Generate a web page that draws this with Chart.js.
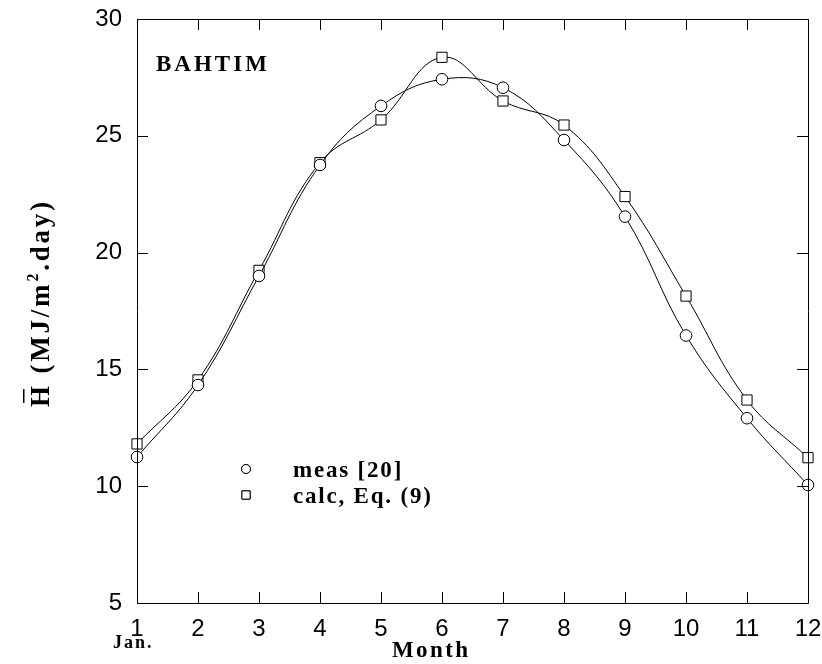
<!DOCTYPE html>
<html>
<head>
<meta charset="utf-8">
<script src="https://cdn.jsdelivr.net/npm/chart.js@4.4.0/dist/chart.umd.min.js"></script>
<style>
html,body{margin:0;padding:0;background:#fff;}
#wrap{width:822px;height:664px;position:relative;}
</style>
</head>
<body>
<div id="wrap"><canvas id="c" width="822" height="664"></canvas></div>
<script>
// ---- data ----
const months = [1,2,3,4,5,6,7,8,9,10,11,12];
const measValues = [11.25, 14.33, 19.0, 23.75, 26.28, 27.42, 27.06, 24.82, 21.54, 16.45, 12.91, 10.05];
const calcValues = [11.81, 14.55, 19.24, 23.85, 25.68, 28.36, 26.49, 25.46, 22.40, 18.14, 13.69, 11.22];
const yTickValues = [5, 10, 15, 20, 25, 30];
const xTickValues = months;
const seriesLabels = ['meas [20]', 'calc, Eq. (9)'];
const stationName = 'BAHTIM';
const xTitle = 'Month';
const firstMonthLabel = 'Jan.';

const SERIF = '"Liberation Serif","Times New Roman",serif';
const SANS = '"Liberation Sans",Arial,sans-serif';

function toXY(vals){ return vals.map((v,i)=>({x: months[i], y: v})); }

const framePlugin = {
  id: 'frame',
  afterDatasetsDraw(chart){
    const ctx = chart.ctx, a = chart.chartArea;
    const xs = chart.scales.x, ys = chart.scales.y;
    ctx.save();
    ctx.strokeStyle = '#000';
    ctx.lineWidth = 1;
    ctx.beginPath();
    ctx.rect(Math.round(a.left)+0.5, Math.round(a.top)+0.5, Math.round(a.right-a.left), Math.round(a.bottom-a.top));
    ctx.stroke();
    const L = 11;
    ctx.beginPath();
    xTickValues.forEach(v=>{
      const px = Math.round(xs.getPixelForValue(v))+0.5;
      ctx.moveTo(px, a.bottom); ctx.lineTo(px, a.bottom - L);
      ctx.moveTo(px, a.top); ctx.lineTo(px, a.top + L);
    });
    yTickValues.forEach(v=>{
      const py = Math.round(ys.getPixelForValue(v))+0.5;
      ctx.moveTo(a.left, py); ctx.lineTo(a.left + L, py);
      ctx.moveTo(a.right, py); ctx.lineTo(a.right - L, py);
    });
    ctx.stroke();
    ctx.restore();
  },
  afterDraw(chart){
    const ctx = chart.ctx;
    ctx.save();
    ctx.fillStyle = '#000';
    ctx.textBaseline = 'alphabetic';
    ctx.font = 'bold 23px ' + SERIF;
    ctx.letterSpacing = '3px';
    ctx.textAlign = 'left';
    ctx.fillText(stationName, 156, 71);
    const ds = chart.data.datasets;
    const lx = 246;
    const rows = [469, 495];
    ctx.font = 'bold 23px ' + SERIF;
    ctx.letterSpacing = '1.8px';
    rows.forEach((ry, i)=>{
      ctx.save();
      ctx.strokeStyle = '#000'; ctx.fillStyle = '#fff'; ctx.lineWidth = 1;
      Chart.helpers.drawPoint(ctx, {pointStyle: ds[i].pointStyle, radius: i===0?4.5:5.8, borderWidth:1}, lx, ry);
      ctx.fill(); ctx.stroke();
      ctx.restore();
      ctx.fillStyle = '#000';
      ctx.fillText(seriesLabels[i], 293, ry + 8);
    });
    ctx.font = 'bold 23px ' + SERIF;
    ctx.letterSpacing = '2.4px';
    ctx.fillText(xTitle, 392, 657);
    ctx.font = 'bold 18px ' + SERIF;
    ctx.letterSpacing = '2px';
    ctx.fillText(firstMonthLabel, 113, 648);
    // y title (rotated)
    ctx.translate(49, 303);
    ctx.rotate(-Math.PI/2);
    ctx.font = 'bold 27px ' + SERIF;
    ctx.letterSpacing = '2.8px';
    const p1 = 'H', p2 = ' (MJ/m', p3 = '2', p4 = '.day)';
    const w1 = ctx.measureText(p1).width, w2 = ctx.measureText(p2).width, w4 = ctx.measureText(p4).width;
    ctx.font = 'bold 16px ' + SERIF;
    const w3 = ctx.measureText(p3).width;
    const total = w1 + w2 + w3 + w4;
    let x = -total/2;
    ctx.font = 'bold 27px ' + SERIF;
    ctx.fillText(p1, x, 0);
    ctx.fillRect(x + 4, -26, w1 - 10, 1.5);
    x += w1;
    ctx.fillText(p2, x, 0); x += w2;
    ctx.font = 'bold 16px ' + SERIF;
    ctx.fillText(p3, x, -11); x += w3;
    ctx.font = 'bold 27px ' + SERIF;
    ctx.fillText(p4, x, 0);
    ctx.restore();
  }
};

const chart = new Chart(document.getElementById('c'), {
  type: 'line',
  data: {
    datasets: [
      {
        label: seriesLabels[0],
        data: toXY(measValues),
        borderColor: '#000', borderWidth: 1,
        backgroundColor: '#fff',
        pointStyle: 'circle', pointRadius: 5.8, pointBorderWidth: 1,
        pointBackgroundColor: '#fff', pointBorderColor: '#000',
        tension: 0.4, fill: false, clip: false
      },
      {
        label: seriesLabels[1],
        data: toXY(calcValues),
        borderColor: '#000', borderWidth: 1,
        backgroundColor: '#fff',
        pointStyle: 'rect', pointRadius: 7.2, pointBorderWidth: 1,
        pointBackgroundColor: '#fff', pointBorderColor: '#000',
        tension: 0.4, fill: false, clip: false
      }
    ]
  },
  options: {
    responsive: false,
    animation: false,
    devicePixelRatio: 1,
    layout: { padding: { left: 0, right: 14, top: 19, bottom: 0 } },
    plugins: { legend: { display: false }, tooltip: { enabled: false } },
    scales: {
      x: {
        type: 'linear', min: 1, max: 12,
        afterBuildTicks(s){ s.ticks = xTickValues.map(v=>({value:v})); },
        afterFit(s){ s.height = 61; s.paddingLeft = 0; s.paddingRight = 0; },
        grid: { display: false, drawTicks: false },
        border: { display: false },
        ticks: { padding: 12, color: '#000', font: { family: SANS, size: 24 }, maxRotation: 0, autoSkip: false }
      },
      y: {
        type: 'linear', min: 5, max: 30,
        afterBuildTicks(s){ s.ticks = yTickValues.map(v=>({value:v})); },
        afterFit(s){ s.width = 137; s.paddingTop = 0; s.paddingBottom = 0; },
        grid: { display: false, drawTicks: false },
        border: { display: false },
        ticks: { padding: 15, color: '#000', font: { family: SANS, size: 24 } }
      }
    }
  },
  plugins: [framePlugin]
});
</script>
</body>
</html>
